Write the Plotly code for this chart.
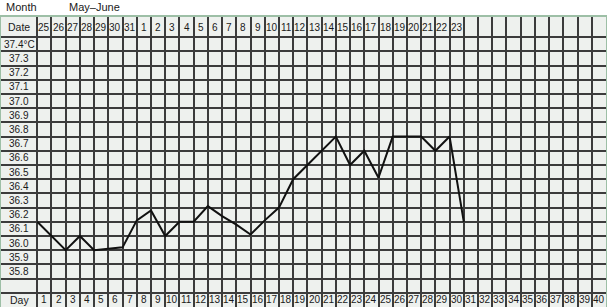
import plotly.graph_objects as go

# ---- data ----
month_label = "Month"
month_value = "May–June"
date_labels = ["25", "26", "27", "28", "29", "30", "31", "1", "2", "3", "4", "5", "6", "7",
               "8", "9", "10", "11", "12", "13", "14", "15", "16", "17", "18", "19", "20",
               "21", "22", "23"]
day_numbers = list(range(1, 41))
temp_rows = [37.4, 37.3, 37.2, 37.1, 37.0, 36.9, 36.8, 36.7, 36.6, 36.5, 36.4, 36.3,
             36.2, 36.1, 36.0, 35.9, 35.8]
temp_row_labels = ["37.4°C", "37.3", "37.2", "37.1", "37.0", "36.9", "36.8", "36.7", "36.6",
                   "36.5", "36.4", "36.3", "36.2", "36.1", "36.0", "35.9", "35.8"]
# recorded temperatures (plotted on grid intersections)
line_days = list(range(1, 32))
line_temps = [36.15, 36.05, 35.95, 36.05, 35.95, 35.96, 35.97, 36.16, 36.23, 36.05,
              36.15, 36.15, 36.26, 36.19, 36.13, 36.06, 36.16, 36.25, 36.45, 36.55,
              36.65, 36.75, 36.55, 36.65, 36.46, 36.75, 36.75, 36.75, 36.65, 36.75,
              36.15]

# ---- geometry ----
X_MIN, X_MAX = -1.55, 41
Y_MIN, Y_MAX = 35.55, 37.592
label_x = (X_MIN + 1) / 2
date_y = (37.45 + Y_MAX) / 2
day_y = 35.6

FONT = "Liberation Sans, Arial, Helvetica, sans-serif"
TXT = "#1a1a1a"

fig = go.Figure()

fig.add_trace(go.Scatter(
    x=line_days, y=line_temps, mode="lines",
    line=dict(color="#111111", width=2), hoverinfo="skip", showlegend=False,
))

annotations = []
# label column
annotations.append(dict(x=label_x, y=date_y, text="Date", showarrow=False,
                        font=dict(size=10.5, color=TXT, family=FONT)))
for t, lab in zip(temp_rows, temp_row_labels):
    annotations.append(dict(x=label_x, y=t, text=lab, showarrow=False,
                            font=dict(size=10, color=TXT, family=FONT)))
annotations.append(dict(x=label_x, y=day_y, text="Day", showarrow=False,
                        font=dict(size=10.5, color=TXT, family=FONT)))
# date row
for i, d in enumerate(date_labels):
    annotations.append(dict(x=i + 1.5, y=date_y, text=d, showarrow=False,
                            font=dict(size=10, color=TXT, family=FONT)))
# day row
for d in day_numbers:
    annotations.append(dict(x=d + 0.5, y=day_y, text=str(d), showarrow=False,
                            font=dict(size=10, color=TXT, family=FONT)))
# header
annotations.append(dict(xref="paper", yref="paper", x=0.005, y=1.0, yshift=10,
                        xanchor="left", yanchor="middle", text=month_label,
                        showarrow=False, font=dict(size=11, color=TXT, family=FONT)))
annotations.append(dict(xref="paper", yref="paper", x=0.109, y=1.0, yshift=10,
                        xanchor="left", yanchor="middle", text=month_value,
                        showarrow=False, font=dict(size=11, color=TXT, family=FONT)))

h_lines = [round(35.65 + 0.1 * i, 2) for i in range(19)]
v_lines = list(range(1, 41))

fig.update_layout(
    width=607, height=307,
    margin=dict(l=1, r=1, t=17, b=0),
    paper_bgcolor="white",
    plot_bgcolor="#eef1ee",
    annotations=annotations,
    showlegend=False,
    xaxis=dict(range=[X_MIN, X_MAX], tickvals=v_lines, showticklabels=False, ticks="",
               showgrid=True, gridcolor="#3c3c3c", gridwidth=1.5, zeroline=False,
               showline=True, linecolor="#9dbfa6", linewidth=1.5, mirror=True,
               fixedrange=True),
    yaxis=dict(range=[Y_MIN, Y_MAX], tickvals=h_lines, showticklabels=False, ticks="",
               showgrid=True, gridcolor="#3c3c3c", gridwidth=1.5, zeroline=False,
               showline=True, linecolor="#9dbfa6", linewidth=1.5, mirror=True,
               fixedrange=True),
)

fig.write_html("out.html")
